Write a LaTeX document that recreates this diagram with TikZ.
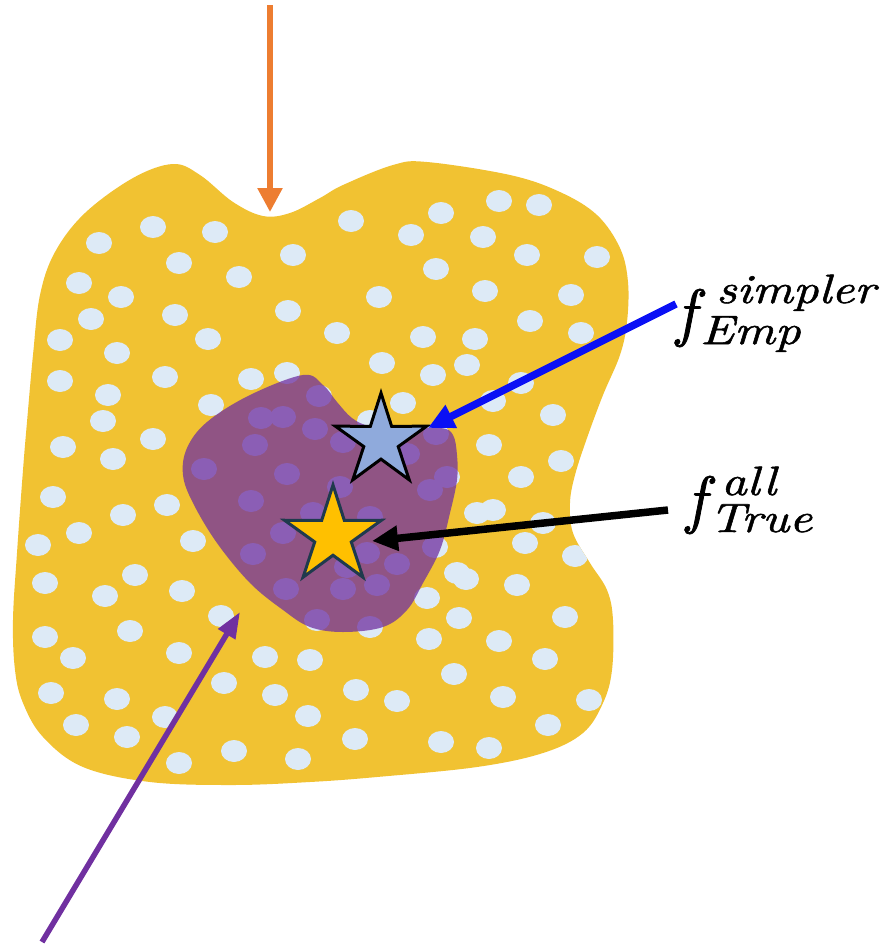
\documentclass[tikz,border=0pt]{standalone}
\usepackage{fontspec}
\usetikzlibrary{shapes.geometric,arrows.meta}
\newfontfamily\labfont{lmroman10-italic.otf}[FakeBold=1.2]
\newfontfamily\scrfont{lmroman10-italic.otf}[FakeStretch=1.22, FakeBold=1.3]
\definecolor{blobc}{HTML}{F1C232}
\definecolor{dotc}{HTML}{DDEAF6}
\definecolor{regc}{HTML}{7030A0}
\definecolor{orangec}{HTML}{ED7D31}
\definecolor{bluearr}{HTML}{0A10F5}
\definecolor{starblue}{HTML}{8FAADC}
\definecolor{staryel}{HTML}{FFC000}
\definecolor{staredge}{HTML}{1F3A4D}
\tikzset{
  bigf/.style={inner sep=0pt, anchor=base west, font=\labfont\fontsize{64}{68}\selectfont},
  scr/.style={inner sep=0pt, anchor=base west, font=\scrfont\fontsize{41}{45}\selectfont},
  starnode/.style={star, star points=5, star point ratio=2.65, minimum size=96pt, inner sep=0pt, line width=3pt},
}
\begin{document}
\begin{tikzpicture}[x=1pt,y=-1pt]
\useasboundingbox (0,0) rectangle (890,946);
\def\blobpath{plot[smooth cycle, tension=0.6] coordinates {(173,164) (200,175) (233,202) (263,216) (290,213) (320,198) (343,185) (393,165) (427,162) (510,175) (560,192) (597,215) (620,248) (628,282) (627,322) (620,355) (603,395) (587,438) (575,475) (570,503) (573,533) (590,563) (607,590) (613,620) (612,670) (603,703) (583,733) (543,753) (477,767) (377,777) (310,782) (233,785) (150,782) (83,767) (43,737) (23,703) (15,670) (13,620) (17,553) (23,470) (27,422) (33,355) (40,295) (55,252) (85,213) (133,178)}}
% yellow region
\fill[blobc] \blobpath;
% dots
\begin{scope}
\clip \blobpath;
\foreach \a/\b in {99/243,153/227,215/232,179/263,239/277,293/255,79/283,121/297,91/319,175/315,288/311,60/340,208/339,117/353,60/381,165/377,251/379,287/373,108/395,211/405,103/421,153/439,63/447,113/459,
351/221,441/213,499/201,539/205,411/235,483/237,527/255,597/257,436/269,379/297,485/291,571/295,530/321,581/333,337/333,423/337,475/339,382/363,433/375,467/365,521/383,493/401,403/403,553/415,489/445,561/461,521/477,
53/497,123/515,167/505,79/533,38/545,193/541,45/583,135/575,105/596,182/591,221/616,45/637,130/631,73/658,179/653,265/657,310/660,51/693,117/699,224/683,275/695,76/725,165/717,127/737,308/716,234/751,179/763,298/759,
477/513,493/510,543/523,525/543,575/556,466/579,517/585,427/598,459/618,565/617,429/639,499/641,545/659,454/674,356/690,397/701,503/697,589/700,548/725,355/739,441/742,489/748,370/627,435/547,
261/418,255/445,204/469,315/429,319/396,287/474,370/421,436/434,343/442,407/454,447/477,283/417,251/501,283/533,253/554,286/589,317/620,313/513,340/487,430/490,370/517,367/553,397/564,347/567,457/573,377/585,343/589}
  \fill[dotc] (\a,\b) ellipse [x radius=13pt, y radius=11pt];
\end{scope}
% purple region
\fill[regc, fill opacity=0.75] plot[smooth cycle, tension=0.6] coordinates {(303,375) (323,385) (337,402) (352,418) (370,426) (405,428) (441,428) (453,435) (457,455) (457,480) (450,513) (440,550) (423,583) (407,610) (383,627) (343,632) (310,627) (283,610) (250,583) (217,543) (193,503) (183,475) (187,448) (207,422) (250,395)};
% stars
\node[starnode, fill=starblue, draw=black] (sb) at (381,441) {};
\node[starnode, minimum size=102pt, fill=staryel, draw=staredge] (sy) at (333,536) {};
% labels
\node[bigf] (f1) at (676,334) {f};
\node[scr] (f1sup) at (716,303) {simpler};
\node[scr] (f1sub) at (700,344) {Emp};
\node[bigf] (f2) at (686,521) {f};
\node[scr] (f2sup) at (721,495) {all};
\node[scr] (f2sub) at (709,532) {True};
% arrow ends
\coordinate (otail) at (270,5);
\coordinate (otip) at (270,212);
\coordinate (btail) at (676,304);
\coordinate (btip) at (428,428);
\coordinate (ktail) at (668,510);
\coordinate (ktip) at (372,541);
\coordinate (ptail) at (42,942);
\coordinate (ptip) at (240,612);
\draw[orangec, line width=5.5pt, -{Triangle[length=24pt, width=24pt]}] (otail) -- (otip);
\draw[bluearr, line width=7.5pt, -{Triangle[length=26pt, width=24pt]}] (btail) -- (btip);
\draw[black, line width=7.5pt, -{Triangle[length=26pt, width=24pt]}] (ktail) -- (ktip);
\draw[regc, line width=5.5pt, -{Triangle[length=26pt, width=19pt]}] (ptail) -- (ptip);
\end{tikzpicture}
\end{document}
